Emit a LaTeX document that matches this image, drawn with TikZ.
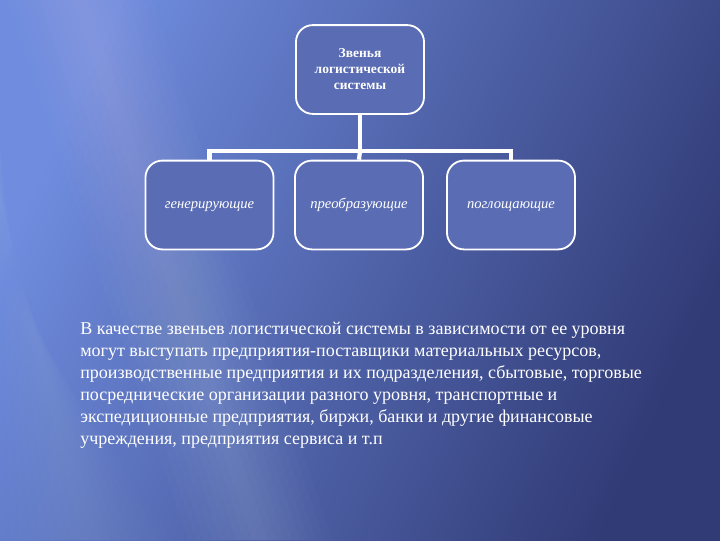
\documentclass[tikz,border=0pt]{standalone}
\usepackage{fontspec}
\setmainfont{Liberation Serif}

\definecolor{bglight}{HTML}{6F8CDE}
\definecolor{bgdark}{HTML}{313B76}
\definecolor{boxfill}{HTML}{5A6CB4}

\tikzset{
  link/.style={rounded corners=12, draw=white, line width=1.3pt, fill=boxfill,
    minimum width=3.2cm, minimum height=2.22cm, align=center, text=white, inner sep=2pt},
  kind/.style={link, text height=1.6ex, text depth=.4ex, font=\fontsize{10.4}{12}\selectfont\itshape},
  joint/.style={draw=white, line width=3pt}
}

\begin{document}
\begin{tikzpicture}[x=0.025cm,y=-0.025cm]
\useasboundingbox (0,0) rectangle (720,540);

% draw background
\shade[left color=bglight, right color=bgdark, shading angle=65] (0,0) rectangle (720,540);
\foreach \w in {8,16,...,72}
  \fill[white,opacity=0.016] (80-\w,0) -- (80+\w,0) -- (260+\w,540) -- (260-\w,540) -- cycle;
\foreach \w in {10,20,...,80}
  \fill[white,opacity=0.012] (0,200-\w) -- (0,200+\w) -- (90+\w,540) -- (90-\w,540) -- cycle;

% draw top box
\node[link, font=\fontsize{9.6}{11.4}\selectfont\bfseries] (top) at (360,69.5) {Звенья\\логистической\\системы};

% draw lower boxes
\node[kind] (gen) at (209.5,205) {генерирующие};
\node[kind] (pre) at (359,205) {преобразующие};
\node[kind] (pog) at (511,205) {поглощающие};

% draw connectors
\coordinate (bar) at (360,151);
\draw[joint] (top.south) -- (bar);
\draw[joint] (bar) -| (gen.north);
\draw[joint] (bar) -- (pre.north);
\draw[joint] (bar) -| (pog.north);

% draw text
\node[anchor=north west, text=white, align=left, inner sep=0pt,
  font=\fontsize{12.8}{15.6}\selectfont] (txt) at (80,322)
  {В качестве звеньев логистической системы в зависимости от ее уровня\\
   могут выступать предприятия-поставщики материальных ресурсов,\\
   производственные предприятия и их подразделения, сбытовые, торговые\\
   посреднические организации разного уровня, транспортные и\\
   экспедиционные предприятия, биржи, банки и другие финансовые\\
   учреждения, предприятия сервиса и т.п};
\end{tikzpicture}
\end{document}
